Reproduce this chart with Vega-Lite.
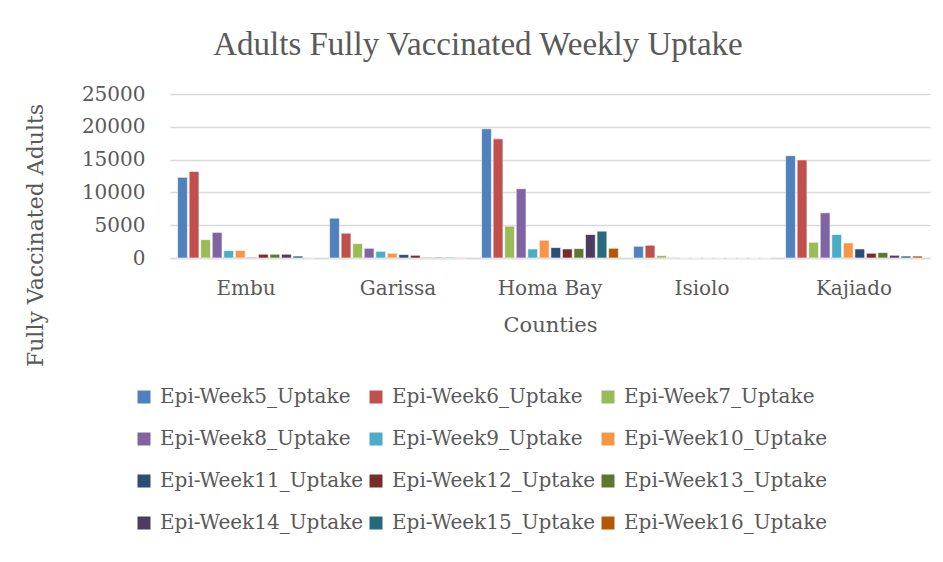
{
  "$schema": "https://vega.github.io/schema/vega-lite/v6.json",
  "autosize": "none",
  "width": 760,
  "height": 164,
  "padding": {"left": 170, "top": 94, "right": 13, "bottom": 304},
  "background": "white",
  "title": {
    "text": "Adults Fully Vaccinated Weekly Uptake",
    "font": "Liberation Serif",
    "fontSize": 33,
    "fontWeight": "normal",
    "color": "#595959",
    "anchor": "middle",
    "frame": "group",
    "dx": -72,
    "offset": 22
  },
  "data": {
    "values": [
      {"county": "Embu", "series": "Epi-Week5_Uptake", "value": 12300},
      {"county": "Embu", "series": "Epi-Week6_Uptake", "value": 13200},
      {"county": "Embu", "series": "Epi-Week7_Uptake", "value": 2800},
      {"county": "Embu", "series": "Epi-Week8_Uptake", "value": 3900},
      {"county": "Embu", "series": "Epi-Week9_Uptake", "value": 1130},
      {"county": "Embu", "series": "Epi-Week10_Uptake", "value": 1150},
      {"county": "Embu", "series": "Epi-Week11_Uptake", "value": 100},
      {"county": "Embu", "series": "Epi-Week12_Uptake", "value": 570},
      {"county": "Embu", "series": "Epi-Week13_Uptake", "value": 570},
      {"county": "Embu", "series": "Epi-Week14_Uptake", "value": 570},
      {"county": "Embu", "series": "Epi-Week15_Uptake", "value": 300},
      {"county": "Embu", "series": "Epi-Week16_Uptake", "value": 20},
      {"county": "Garissa", "series": "Epi-Week5_Uptake", "value": 6070},
      {"county": "Garissa", "series": "Epi-Week6_Uptake", "value": 3780},
      {"county": "Garissa", "series": "Epi-Week7_Uptake", "value": 2200},
      {"county": "Garissa", "series": "Epi-Week8_Uptake", "value": 1480},
      {"county": "Garissa", "series": "Epi-Week9_Uptake", "value": 1020},
      {"county": "Garissa", "series": "Epi-Week10_Uptake", "value": 720},
      {"county": "Garissa", "series": "Epi-Week11_Uptake", "value": 520},
      {"county": "Garissa", "series": "Epi-Week12_Uptake", "value": 410},
      {"county": "Garissa", "series": "Epi-Week13_Uptake", "value": 100},
      {"county": "Garissa", "series": "Epi-Week14_Uptake", "value": 100},
      {"county": "Garissa", "series": "Epi-Week15_Uptake", "value": 100},
      {"county": "Garissa", "series": "Epi-Week16_Uptake", "value": 40},
      {"county": "Homa Bay", "series": "Epi-Week5_Uptake", "value": 19700},
      {"county": "Homa Bay", "series": "Epi-Week6_Uptake", "value": 18160},
      {"county": "Homa Bay", "series": "Epi-Week7_Uptake", "value": 4850},
      {"county": "Homa Bay", "series": "Epi-Week8_Uptake", "value": 10560},
      {"county": "Homa Bay", "series": "Epi-Week9_Uptake", "value": 1380},
      {"county": "Homa Bay", "series": "Epi-Week10_Uptake", "value": 2710},
      {"county": "Homa Bay", "series": "Epi-Week11_Uptake", "value": 1590},
      {"county": "Homa Bay", "series": "Epi-Week12_Uptake", "value": 1380},
      {"county": "Homa Bay", "series": "Epi-Week13_Uptake", "value": 1430},
      {"county": "Homa Bay", "series": "Epi-Week14_Uptake", "value": 3580},
      {"county": "Homa Bay", "series": "Epi-Week15_Uptake", "value": 4090},
      {"county": "Homa Bay", "series": "Epi-Week16_Uptake", "value": 1480},
      {"county": "Isiolo", "series": "Epi-Week5_Uptake", "value": 1790},
      {"county": "Isiolo", "series": "Epi-Week6_Uptake", "value": 1940},
      {"county": "Isiolo", "series": "Epi-Week7_Uptake", "value": 370},
      {"county": "Isiolo", "series": "Epi-Week8_Uptake", "value": 50},
      {"county": "Isiolo", "series": "Epi-Week9_Uptake", "value": 0},
      {"county": "Isiolo", "series": "Epi-Week10_Uptake", "value": 0},
      {"county": "Isiolo", "series": "Epi-Week11_Uptake", "value": 0},
      {"county": "Isiolo", "series": "Epi-Week12_Uptake", "value": 0},
      {"county": "Isiolo", "series": "Epi-Week13_Uptake", "value": 0},
      {"county": "Isiolo", "series": "Epi-Week14_Uptake", "value": 0},
      {"county": "Isiolo", "series": "Epi-Week15_Uptake", "value": 0},
      {"county": "Isiolo", "series": "Epi-Week16_Uptake", "value": 0},
      {"county": "Kajiado", "series": "Epi-Week5_Uptake", "value": 15600},
      {"county": "Kajiado", "series": "Epi-Week6_Uptake", "value": 14950},
      {"county": "Kajiado", "series": "Epi-Week7_Uptake", "value": 2400},
      {"county": "Kajiado", "series": "Epi-Week8_Uptake", "value": 6890},
      {"county": "Kajiado", "series": "Epi-Week9_Uptake", "value": 3580},
      {"county": "Kajiado", "series": "Epi-Week10_Uptake", "value": 2300},
      {"county": "Kajiado", "series": "Epi-Week11_Uptake", "value": 1380},
      {"county": "Kajiado", "series": "Epi-Week12_Uptake", "value": 720},
      {"county": "Kajiado", "series": "Epi-Week13_Uptake", "value": 830},
      {"county": "Kajiado", "series": "Epi-Week14_Uptake", "value": 410},
      {"county": "Kajiado", "series": "Epi-Week15_Uptake", "value": 300},
      {"county": "Kajiado", "series": "Epi-Week16_Uptake", "value": 300}
    ]
  },
  "mark": {"type": "bar", "stroke": "white", "strokeWidth": 0.6},
  "encoding": {
    "x": {
      "field": "county",
      "type": "nominal",
      "sort": ["Embu", "Garissa", "Homa Bay", "Isiolo", "Kajiado"],
      "scale": {"paddingInner": 0.1, "paddingOuter": 0.05},
      "axis": {
        "title": "Counties",
        "titleFont": "DejaVu Serif",
        "titleFontSize": 21,
        "titleFontWeight": "normal",
        "titleColor": "#595959",
        "titlePadding": 16,
        "labelFont": "DejaVu Serif",
        "labelFontSize": 20,
        "labelColor": "#595959",
        "labelAngle": 0,
        "labelPadding": 20,
        "ticks": false,
        "domainColor": "#d9d9d9",
        "domainWidth": 1.5
      }
    },
    "xOffset": {
      "field": "series",
      "type": "nominal",
      "sort": ["Epi-Week5_Uptake", "Epi-Week6_Uptake", "Epi-Week7_Uptake", "Epi-Week8_Uptake", "Epi-Week9_Uptake", "Epi-Week10_Uptake", "Epi-Week11_Uptake", "Epi-Week12_Uptake", "Epi-Week13_Uptake", "Epi-Week14_Uptake", "Epi-Week15_Uptake", "Epi-Week16_Uptake"],
      "scale": {"paddingInner": 0.15}
    },
    "y": {
      "field": "value",
      "type": "quantitative",
      "scale": {"domain": [0, 25000]},
      "axis": {
        "title": "Fully Vaccinated Adults",
        "titleFont": "DejaVu Serif",
        "titleFontSize": 22,
        "titleFontWeight": "normal",
        "titleColor": "#595959",
        "titleX": -135,
        "titleY": 141,
        "titleAngle": -90,
        "titleAlign": "center",
        "titleBaseline": "middle",
        "values": [0, 5000, 10000, 15000, 20000, 25000],
        "format": "d",
        "labelFont": "DejaVu Serif",
        "labelFontSize": 20,
        "labelColor": "#595959",
        "labelPadding": 25,
        "ticks": false,
        "domain": false,
        "gridColor": "#d9d9d9",
        "gridWidth": 1.5
      }
    },
    "color": {
      "field": "series",
      "type": "nominal",
      "scale": {
        "domain": ["Epi-Week5_Uptake", "Epi-Week6_Uptake", "Epi-Week7_Uptake", "Epi-Week8_Uptake", "Epi-Week9_Uptake", "Epi-Week10_Uptake", "Epi-Week11_Uptake", "Epi-Week12_Uptake", "Epi-Week13_Uptake", "Epi-Week14_Uptake", "Epi-Week15_Uptake", "Epi-Week16_Uptake"],
        "range": ["#4F81BD", "#C0504D", "#9BBB59", "#8064A2", "#4BACC6", "#F79646", "#2C4D75", "#772C2A", "#5F7530", "#4D3B62", "#276A7C", "#B65708"]
      },
      "legend": {
        "title": null,
        "orient": "none",
        "direction": "horizontal",
        "legendX": -36,
        "legendY": 293,
        "columns": 3,
        "gridAlign": "all",
        "columnPadding": 2,
        "rowPadding": 22,
        "symbolType": "square",
        "symbolSize": 169,
        "symbolStrokeWidth": 0,
        "symbolOffset": 0,
        "labelOffset": 6,
        "labelFont": "DejaVu Serif",
        "labelFontSize": 20,
        "labelColor": "#595959",
        "labelLimit": 300
      }
    }
  },
  "config": {"view": {"stroke": null}}
}
